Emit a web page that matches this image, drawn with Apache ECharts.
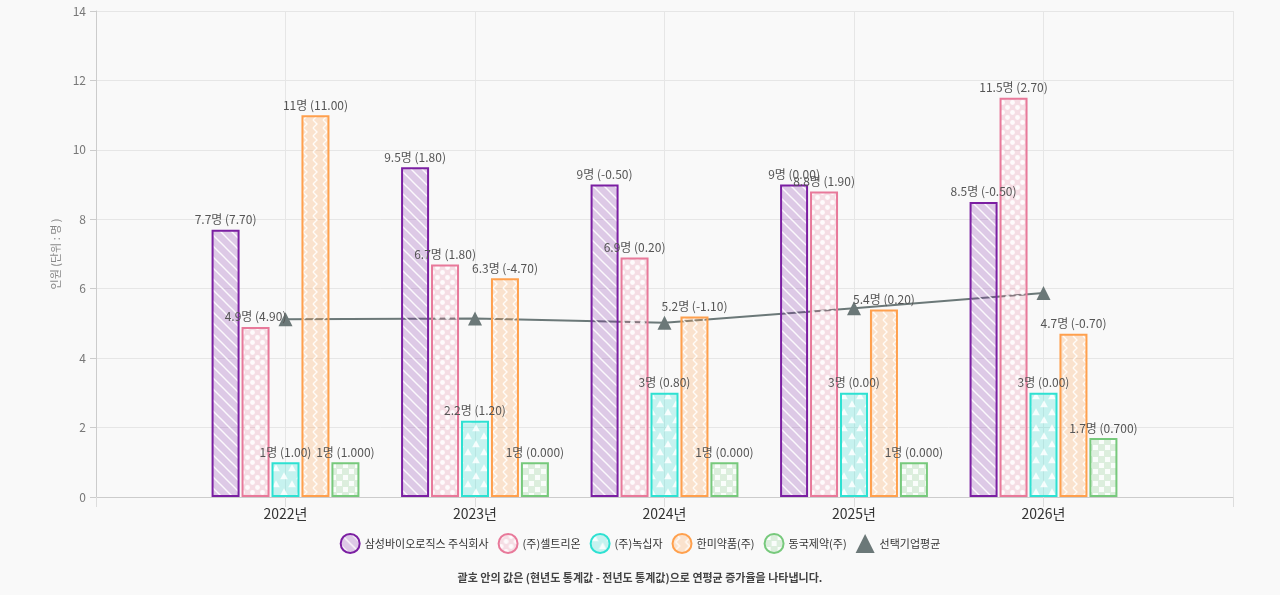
<!DOCTYPE html>
<html>
<head>
<meta charset="utf-8">
<title>인원</title>
<script src="https://cdn.jsdelivr.net/npm/echarts@6/dist/echarts.min.js"></script>
<style>
  html, body { margin: 0; padding: 0; width: 100%; height: 100%; background: #f9f9f9; }
  #chart { width: 1280px; height: 595px; }
</style>
</head>
<body>
<div id="chart"></div>
<script>
// 데이터
var years = ['2022년', '2023년', '2024년', '2025년', '2026년'];
var names = ['삼성바이오로직스 주식회사', '(주)셀트리온', '(주)녹십자', '한미약품(주)', '동국제약(주)'];
var avgName = '선택기업평균';

var samsung = [7.7, 9.5, 9, 9, 8.5];
var celltrion = [4.9, 6.7, 6.9, 8.8, 11.5];
var greencross = [1, 2.2, 3, 3, 3];
var hanmi = [11, 6.3, 5.2, 5.4, 4.7];
var dongkook = [1, 1, 1, 1, 1.7];
var average = [5.12, 5.14, 5.02, 5.44, 5.88];

var samsungDiff = ['7.70', '1.80', '-0.50', '0.00', '-0.50'];
var celltrionDiff = ['4.90', '1.80', '0.20', '1.90', '2.70'];
var greencrossDiff = ['1.00', '1.20', '0.80', '0.00', '0.00'];
var hanmiDiff = ['11.00', '-4.70', '-1.10', '0.20', '-0.70'];
var dongkookDiff = ['1.000', '0.000', '0.000', '0.000', '0.700'];

var yTicks = { min: 0, max: 14, interval: 2 };

// 패턴 만들기
function makePattern(w, h, bg, draw) {
  var c = document.createElement('canvas');
  c.width = w; c.height = h;
  var ctx = c.getContext('2d');
  ctx.fillStyle = bg;
  ctx.fillRect(0, 0, w, h);
  ctx.fillStyle = 'rgba(255,255,255,0.85)';
  ctx.strokeStyle = 'rgba(255,255,255,0.85)';
  draw(ctx, w, h);
  return { image: c, repeat: 'repeat' };
}

var patStripe = makePattern(11, 11, 'rgba(123,31,162,0.22)', function (ctx) {
  ctx.lineWidth = 1.5;
  for (var k = -11; k <= 11; k += 11) {
    ctx.beginPath(); ctx.moveTo(k - 2, -2); ctx.lineTo(k + 13, 13); ctx.stroke();
  }
});
var patDot = makePattern(10, 10, 'rgba(232,121,154,0.22)', function (ctx) {
  ctx.beginPath(); ctx.arc(2.5, 2.5, 2.4, 0, Math.PI * 2); ctx.fill();
  ctx.beginPath(); ctx.arc(7.5, 7.5, 2.4, 0, Math.PI * 2); ctx.fill();
});
var patTri = makePattern(16, 16, 'rgba(46,225,210,0.25)', function (ctx) {
  function tri(x, y) {
    ctx.beginPath(); ctx.moveTo(x, y - 3.8); ctx.lineTo(x + 3.8, y + 3.2); ctx.lineTo(x - 3.8, y + 3.2); ctx.closePath(); ctx.fill();
  }
  tri(4, 4); tri(12, 12);
});
var patZig = makePattern(10, 8, 'rgba(255,160,77,0.25)', function (ctx) {
  ctx.lineWidth = 1.4;
  ctx.beginPath(); ctx.moveTo(3, 0); ctx.lineTo(7, 4); ctx.lineTo(3, 8); ctx.stroke();
});
var patCheck = makePattern(12, 12, 'rgba(119,201,124,0.22)', function (ctx) {
  ctx.fillRect(1, 1, 5, 5);
  ctx.fillRect(7, 7, 5, 5);
});

var cats = [''].concat(years).concat(['']);
function pad(arr) { return ['-'].concat(arr).concat(['-']); }

function barSeries(name, values, diffs, fill, border) {
  return {
    name: name,
    type: 'bar',
    data: pad(values),
    barWidth: 28,
    barGap: '7%',
    z: 3,
    itemStyle: { color: fill, borderColor: border, borderWidth: 2 },
    label: {
      show: true,
      position: 'top',
      distance: 4,
      color: '#555',
      fontSize: 12,
      fontFamily: 'Noto Sans CJK KR',
      formatter: function (p) {
        return p.value + '명 (' + diffs[p.dataIndex - 1] + ')';
      }
    }
  };
}

var chart = echarts.init(document.getElementById('chart'));
chart.setOption({
  backgroundColor: '#f9f9f9',
  textStyle: { fontFamily: 'Noto Sans CJK KR' },
  animation: false,
  title: {
    text: '괄호 안의 값은 (현년도 통계값 - 전년도 통계값)으로 연평균 증가율을 나타냅니다.',
    left: 'center',
    bottom: 7,
    textStyle: { fontSize: 11, fontWeight: 'bold', color: '#444' }
  },
  legend: {
    bottom: 36,
    left: 'center',
    itemWidth: 19,
    itemHeight: 19,
    itemGap: 9,
    textStyle: { fontSize: 11, color: '#333' },
    data: [
      { name: names[0], icon: 'circle' },
      { name: names[1], icon: 'circle' },
      { name: names[2], icon: 'circle' },
      { name: names[3], icon: 'circle' },
      { name: names[4], icon: 'circle' },
      { name: avgName, icon: 'triangle' }
    ]
  },
  grid: { left: 96, right: 47, top: 11, bottom: 98 },
  xAxis: {
    type: 'category',
    data: cats,
    boundaryGap: false,
    axisLine: { lineStyle: { color: '#ccc' } },
    axisTick: { show: true, length: 10, lineStyle: { color: '#ddd' } },
    axisLabel: { fontSize: 14, color: '#333', margin: 10 },
    splitLine: { show: true, lineStyle: { color: '#e6e6e6' } }
  },
  yAxis: {
    type: 'value',
    min: yTicks.min,
    max: yTicks.max,
    interval: yTicks.interval,
    name: '인원 (단위 : 명 )',
    nameLocation: 'middle',
    nameRotate: 90,
    nameGap: 32,
    nameTextStyle: { fontSize: 11, color: '#888' },
    axisLine: { show: true, lineStyle: { color: '#ccc' } },
    axisTick: { show: true, length: 6, lineStyle: { color: '#ccc' } },
    axisLabel: { fontSize: 12, color: '#777', margin: 10 },
    splitLine: { lineStyle: { color: '#e6e6e6' } }
  },
  series: [
    barSeries(names[0], samsung, samsungDiff, patStripe, '#7b1fa2'),
    barSeries(names[1], celltrion, celltrionDiff, patDot, '#e8799a'),
    barSeries(names[2], greencross, greencrossDiff, patTri, '#2ee1d2'),
    barSeries(names[3], hanmi, hanmiDiff, patZig, '#ffa04d'),
    barSeries(names[4], dongkook, dongkookDiff, patCheck, '#77c97c'),
    {
      name: avgName,
      type: 'line',
      data: pad(average),
      z: 1,
      symbol: 'triangle',
      symbolSize: 14,
      itemStyle: { color: '#6b7878' },
      lineStyle: { color: '#6b7878', width: 2 }
    }
  ]
});
</script>
</body>
</html>
